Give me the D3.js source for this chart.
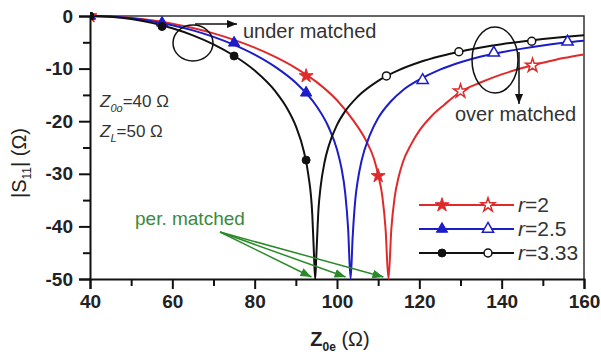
<!DOCTYPE html>
<html>
<head>
<meta charset="utf-8">
<script src="https://cdn.jsdelivr.net/npm/d3@7"></script>
<style>
  body { margin: 0; background: #fff; }
  text { font-family: Arial, "Liberation Sans", sans-serif; }
</style>
</head>
<body>
<svg id="chart" width="601" height="361"></svg>
<script>
// Achsenwerte
const xTicks = [40, 60, 80, 100, 120, 140, 160];
const xMinor = [50, 70, 90, 110, 130, 150];
const yTicks = [0, -10, -20, -30, -40, -50];
const yMinor = [-5, -15, -25, -35, -45];

// Kurven |S11| (dB) über Z0e
const zR2 = [40,45,50,55,60,65,70,75,80,85,90,95,100,104,107,109,110,111,111.8,112.5,113.2,114,115,116,118,120,123,126,130,135,140,145,150,155,160];
const sR2 = [0,-0.09,-0.36,-0.81,-1.45,-2.29,-3.3,-4.53,-6.01,-7.77,-9.89,-12.53,-16.02,-19.9,-23.6,-27.2,-30.2,-34.2,-40.5,-50,-40.5,-34.5,-30.5,-27.8,-24.4,-21.8,-19.0,-16.9,-14.4,-12.6,-11.1,-9.9,-8.9,-8.0,-7.3];

const zR25 = [40,45,50,55,60,65,70,75,80,85,90,95,98,100,101,102,102.7,103.3,103.8,104.5,105,106,108,110,113,116,120,125,130,135,140,145,150,155,160];
const sR25 = [0,-0.11,-0.43,-0.98,-1.74,-2.73,-3.97,-5.49,-7.34,-9.67,-12.7,-17.1,-21.2,-25.4,-28.6,-33.7,-40.4,-50,-42.1,-34.5,-31.5,-27.4,-22.6,-19.4,-16.3,-14.1,-12.1,-10.2,-8.8,-7.7,-6.9,-6.2,-5.6,-5.1,-4.7];

const zR333 = [40,45,50,55,60,65,70,75,80,85,88,90,92,93,94,94.4,94.7,95,95.5,96,97,98,100,102,105,110,115,120,125,130,135,140,145,150,155,160];
const sR333 = [0,-0.15,-0.58,-1.31,-2.34,-3.68,-5.39,-7.56,-10.37,-14.3,-17.73,-20.95,-25.92,-30.02,-37.8,-45.2,-50,-45.2,-36.75,-32.6,-27.7,-24.65,-20.7,-18.09,-15.35,-12.33,-10.3,-8.8,-7.65,-6.74,-5.99,-5.36,-4.84,-4.39,-4.0,-3.66];

// Marker (gefüllt vor, offen nach der Anpassung)
const mR2Fill = [[40,0],[92.5,-11.4],[110,-30.4]];
const mR2Open = [[130,-14.3],[147.5,-9.4]];
const mR25Fill = [[40,0],[57.5,-1.3],[75,-5.1],[92.5,-14.6]];
const mR25Open = [[120.8,-12.2],[138.1,-7.0],[156,-4.9]];
const mR333Fill = [[40,0],[57.5,-2.0],[75,-7.6],[92.5,-27.4]];
const mR333Open = [[112,-11.4],[129.6,-6.8],[147.3,-4.8]];

const legendLabels = ["2", "2.5", "3.33"];
const nullPoints = [95, 103.3, 112.5]; // per. matched

const svg = d3.select("#chart");
const x = d3.scaleLinear().domain([40, 160]).range([90, 584]);
const y = d3.scaleLinear().domain([-50, 0]).range([279, 16]);

svg.append("rect").attr("width", 601).attr("height", 361).attr("fill", "#fff");

const defs = svg.append("defs");
defs.append("clipPath").attr("id", "plot")
  .append("rect").attr("x", 90).attr("y", 12).attr("width", 494).attr("height", 268);
function arrowHead(id, col, size) {
  defs.append("marker").attr("id", id)
    .attr("viewBox", "0 0 10 10").attr("refX", 10).attr("refY", 5)
    .attr("markerWidth", size).attr("markerHeight", size).attr("orient", "auto")
    .attr("markerUnits", "userSpaceOnUse")
    .append("path").attr("d", "M0,1 L10,5 L0,9 Z").attr("fill", col);
}
arrowHead("arrK", "#111", 10);
arrowHead("arrG", "#2a8a2a", 11);

// Rahmen oben/rechts
svg.append("path").attr("d", `M90,${y(0)}H584V279`)
  .attr("fill", "none").attr("stroke", "#333").attr("stroke-width", 1.5);

// Achsen
svg.append("g").attr("transform", "translate(0,279)")
  .call(d3.axisBottom(x).tickValues(xTicks).tickSize(10).tickPadding(6).tickFormat(d => String(d)));
svg.append("g").attr("transform", "translate(0,279)")
  .call(d3.axisBottom(x).tickValues(xMinor).tickSize(7).tickFormat(""))
  .select(".domain").remove();
svg.append("g").attr("transform", "translate(90,0)")
  .call(d3.axisLeft(y).tickValues(yTicks).tickSize(11).tickPadding(6).tickFormat(d => String(d)));
svg.append("g").attr("transform", "translate(90,0)")
  .call(d3.axisLeft(y).tickValues(yMinor).tickSize(7).tickFormat(""))
  .select(".domain").remove();

svg.selectAll(".domain").attr("stroke", "#111").attr("stroke-width", 2);
svg.selectAll(".tick line").attr("stroke", "#111").attr("stroke-width", 2);
svg.selectAll(".tick text").attr("font-size", 19).attr("font-weight", "bold")
  .attr("fill", "#222").attr("font-family", "Arial, 'Liberation Sans', sans-serif");

// Kurven
const line = d3.line().x(d => x(d[0])).y(d => y(d[1])).curve(d3.curveMonotoneX);
const series = [
  { z: zR2, s: sR2, col: "#e02a2a", sym: d3.symbolStar, size: 60, fill: mR2Fill, open: mR2Open },
  { z: zR25, s: sR25, col: "#1c1cc8", sym: d3.symbolTriangle, size: 55, fill: mR25Fill, open: mR25Open },
  { z: zR333, s: sR333, col: "#111", sym: d3.symbolCircle, size: 50, fill: mR333Fill, open: mR333Open }
];

const plot = svg.append("g").attr("clip-path", "url(#plot)");
series.forEach(sr => {
  plot.append("path").datum(d3.zip(sr.z, sr.s))
    .attr("d", line).attr("fill", "none")
    .attr("stroke", sr.col).attr("stroke-width", 2);
});
series.forEach(sr => {
  const sym = d3.symbol().type(sr.sym).size(sr.size);
  plot.selectAll(null).data(sr.fill).join("path")
    .attr("transform", d => `translate(${x(d[0])},${y(d[1])})`)
    .attr("d", sym).attr("fill", sr.col).attr("stroke", sr.col).attr("stroke-width", 1);
  plot.selectAll(null).data(sr.open).join("path")
    .attr("transform", d => `translate(${x(d[0])},${y(d[1])})`)
    .attr("d", sym).attr("fill", "#fff").attr("stroke", sr.col).attr("stroke-width", 1.5);
});

// Legende
const leg = svg.append("g");
series.forEach((sr, i) => {
  const ly = 205 + i * 24;
  const sym = d3.symbol().type(sr.sym).size(sr.size);
  leg.append("line").attr("x1", 419).attr("x2", 514).attr("y1", ly).attr("y2", ly)
    .attr("stroke", sr.col).attr("stroke-width", 2);
  leg.append("path").attr("transform", `translate(442,${ly})`).attr("d", sym)
    .attr("fill", sr.col).attr("stroke", sr.col);
  leg.append("path").attr("transform", `translate(488,${ly})`).attr("d", sym)
    .attr("fill", "#fff").attr("stroke", sr.col).attr("stroke-width", 1.5);
  const t = leg.append("text").attr("x", 518).attr("y", ly + 7)
    .attr("font-size", 21).attr("fill", "#333");
  t.append("tspan").attr("font-style", "italic").text("r");
  t.append("tspan").text("=" + legendLabels[i]);
});

// Annotationen
svg.append("ellipse").attr("cx", 193).attr("cy", 43).attr("rx", 20).attr("ry", 18)
  .attr("fill", "none").attr("stroke", "#111").attr("stroke-width", 1.5);
svg.append("line").attr("x1", 195).attr("y1", 24).attr("x2", 237).attr("y2", 24)
  .attr("stroke", "#111").attr("stroke-width", 1.5).attr("marker-end", "url(#arrK)");
svg.append("text").attr("x", 243).attr("y", 38).attr("font-size", 20).attr("fill", "#333")
  .text("under matched");

svg.append("ellipse").attr("cx", 495).attr("cy", 60).attr("rx", 23).attr("ry", 33)
  .attr("fill", "none").attr("stroke", "#111").attr("stroke-width", 1.5);
svg.append("line").attr("x1", 519).attr("y1", 52).attr("x2", 519).attr("y2", 104)
  .attr("stroke", "#111").attr("stroke-width", 1.5).attr("marker-end", "url(#arrK)");
svg.append("text").attr("x", 455).attr("y", 121).attr("font-size", 20).attr("fill", "#333")
  .text("over matched");

function zText(tx, ty, sub, rest) {
  const t = svg.append("text").attr("x", tx).attr("y", ty).attr("font-size", 17).attr("fill", "#333");
  t.append("tspan").attr("font-style", "italic").text("Z");
  t.append("tspan").attr("font-style", "italic").attr("font-size", 11).attr("dy", 5).text(sub);
  t.append("tspan").attr("dy", -5).text(rest);
}
zText(100, 107, "0o", "=40 Ω");
zText(100, 137, "L", "=50 Ω");

svg.append("text").attr("x", 135).attr("y", 225).attr("font-size", 19).attr("fill", "#3a8a3a")
  .text("per. matched");
nullPoints.forEach(z => {
  svg.append("line").attr("x1", 220).attr("y1", 232).attr("x2", x(z) - 5).attr("y2", 277)
    .attr("stroke", "#2a8a2a").attr("stroke-width", 1.5).attr("marker-end", "url(#arrG)");
});

// Achsentitel
const xl = svg.append("text").attr("x", 340).attr("y", 346).attr("text-anchor", "middle")
  .attr("font-size", 20).attr("font-weight", "bold").attr("fill", "#222");
xl.append("tspan").text("Z");
xl.append("tspan").attr("font-size", 12).attr("dy", 5).text("0e");
xl.append("tspan").attr("dy", -5).attr("font-weight", "normal").text(" (Ω)");

const yl = svg.append("text").attr("transform", "translate(26,163) rotate(-90)")
  .attr("text-anchor", "middle").attr("font-size", 20).attr("fill", "#222");
yl.append("tspan").text("|S");
yl.append("tspan").attr("font-size", 12).attr("dy", 5).text("11");
yl.append("tspan").attr("dy", -5).text("| (Ω)");
</script>
</body>
</html>
